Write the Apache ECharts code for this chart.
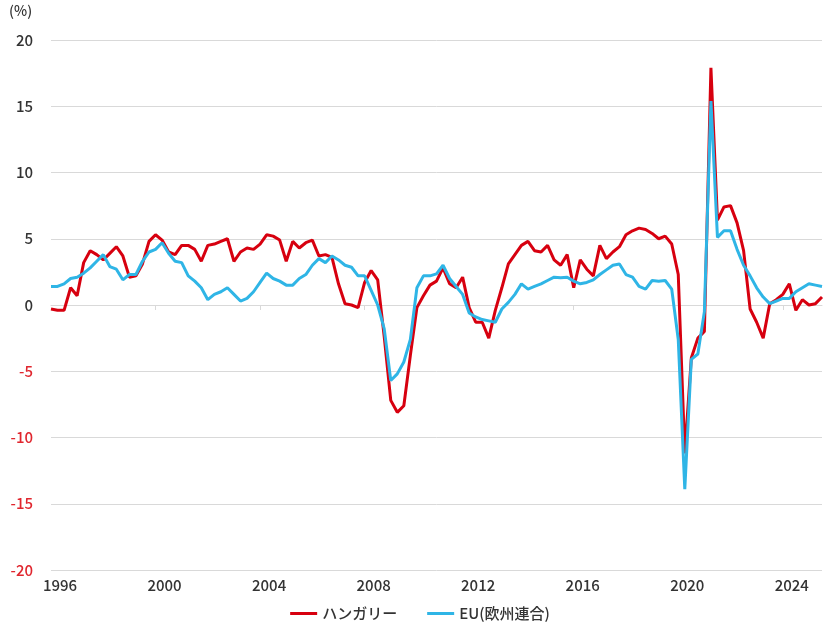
<!DOCTYPE html>
<html>
<head>
<meta charset="utf-8">
<script src="https://cdn.jsdelivr.net/npm/echarts@6/dist/echarts.min.js"></script>
<style>
html,body{margin:0;padding:0;background:#fff;}
#chart{width:840px;height:634px;}
</style>
</head>
<body>
<div id="chart"></div>
<script>
// Quarterly GDP growth (YoY, %), 1996Q1 - 2025Q3
const startYear = 1996;
const quarterCount = 119;
const categories = [];
for (let i = 0; i < quarterCount; i++) {
  categories.push((startYear + Math.floor(i / 4)) + 'Q' + (i % 4 + 1));
}
const seriesNames = ['ハンガリー', 'EU(欧州連合)'];
const hungary = [
  -0.3, -0.4, -0.4, 1.3, 0.7, 3.2, 4.1, 3.8, 3.4, 3.9, 4.4, 3.7,
  2.1, 2.2, 3.1, 4.8, 5.3, 4.9, 4.0, 3.8, 4.5, 4.5, 4.2, 3.3,
  4.5, 4.6, 4.8, 5.0, 3.3, 4.0, 4.3, 4.2, 4.6, 5.3, 5.2, 4.9,
  3.3, 4.8, 4.3, 4.7, 4.9, 3.7, 3.8, 3.6, 1.6, 0.1, 0.0, -0.2,
  1.7, 2.6, 1.9, -2.4, -7.2, -8.1, -7.6, -3.8, -0.2, 0.7, 1.5, 1.8,
  2.8, 1.6, 1.3, 2.1, -0.2, -1.3, -1.3, -2.5, -0.4, 1.3, 3.1, 3.8,
  4.5, 4.8, 4.1, 4.0, 4.5, 3.4, 3.0, 3.8, 1.3, 3.4, 2.7, 2.2,
  4.5, 3.5, 4.0, 4.4, 5.3, 5.6, 5.8, 5.7, 5.4, 5.0, 5.2, 4.6,
  2.3, -11.2, -4.0, -2.5, -2.0, 17.9, 6.4, 7.4, 7.5, 6.2, 4.1, -0.3,
  -1.3, -2.5, 0.1, 0.4, 0.8, 1.6, -0.4, 0.4, 0.0, 0.1, 0.6
];
const eu = [
  1.4, 1.4, 1.6, 2.0, 2.1, 2.4, 2.8, 3.3, 3.8, 2.9, 2.7, 1.9,
  2.3, 2.3, 3.3, 4.0, 4.2, 4.7, 3.9, 3.3, 3.2, 2.2, 1.8, 1.3,
  0.4, 0.8, 1.0, 1.3, 0.8, 0.3, 0.5, 1.0, 1.7, 2.4, 2.0, 1.8,
  1.5, 1.5, 2.0, 2.3, 3.0, 3.5, 3.2, 3.7, 3.4, 3.0, 2.85, 2.2,
  2.2, 1.1, 0.0, -1.8, -5.7, -5.2, -4.3, -2.6, 1.3, 2.2, 2.2, 2.35,
  3.0, 2.0, 1.4, 0.8, -0.6, -0.9, -1.1, -1.2, -1.3, -0.3, 0.2, 0.8,
  1.6, 1.2, 1.4, 1.6, 1.85, 2.1, 2.05, 2.1, 1.8, 1.6, 1.7, 1.9,
  2.3, 2.65, 3.0, 3.1, 2.3, 2.1, 1.4, 1.2, 1.85, 1.8, 1.85, 1.2,
  -2.6, -13.9, -4.1, -3.7, -0.5, 15.4, 5.1, 5.6, 5.6, 4.2, 3.0, 2.2,
  1.3, 0.6, 0.1, 0.3, 0.5, 0.5, 1.0, 1.3, 1.6, 1.5, 1.4
];
const yMin = -20, yMax = 20, yStep = 5;
const labelEvery = 16;

const FONT = '"Noto Sans CJK JP", "Noto Sans", sans-serif';
const WEIGHT = 500;
const RED = '#d7000f';
const BLUE = '#2fb5e6';

const chart = echarts.init(document.getElementById('chart'), null, {renderer: 'canvas'});
chart.setOption({
  animation: false,
  backgroundColor: '#ffffff',
  textStyle: {fontFamily: FONT},
  grid: {left: 51, right: 18, top: 40, bottom: 64, containLabel: false},
  graphic: [{
    type: 'text', left: 9, top: 4,
    style: {text: '(%)', fontSize: 14, fill: '#333', fontFamily: FONT, fontWeight: WEIGHT}
  }],
  legend: {
    bottom: 8, left: 'center',
    icon: 'rect', itemWidth: 27, itemHeight: 3, itemGap: 30,
    textStyle: {fontSize: 15, color: '#333', fontFamily: FONT, fontWeight: WEIGHT},
    data: seriesNames
  },
  xAxis: [{
    type: 'category', data: categories, boundaryGap: false,
    axisLine: {show: true, onZero: true, lineStyle: {color: '#d9d9d9', width: 1}},
    axisTick: {show: true, length: 5, lineStyle: {color: '#d9d9d9'},
      interval: function (idx) { return idx % labelEvery === 0 && idx > 0; }},
    axisLabel: {show: false},
    splitLine: {show: false}
  }, {
    type: 'category', data: categories, boundaryGap: false, position: 'bottom', offset: 0,
    axisLine: {show: false, onZero: false},
    axisTick: {show: false},
    axisLabel: {
      show: true, margin: 8, fontSize: 15, color: '#333', fontFamily: FONT, fontWeight: WEIGHT,
      padding: [0, 0, 0, 18],
      interval: function (idx) { return idx % labelEvery === 0; },
      formatter: function (v) { return v.slice(0, 4); }
    },
    splitLine: {show: false}
  }],
  yAxis: {
    type: 'value', min: yMin, max: yMax, interval: yStep,
    axisLine: {show: false}, axisTick: {show: false},
    axisLabel: {
      margin: 18, fontSize: 15, fontFamily: FONT, fontWeight: WEIGHT,
      color: function (v) { return Number(v) < 0 ? '#e0262e' : '#333'; }
    },
    splitLine: {lineStyle: {color: '#d9d9d9', width: 1}}
  },
  series: [{
    name: seriesNames[0], type: 'line', data: hungary, xAxisIndex: 0,
    showSymbol: false, symbol: 'none',
    lineStyle: {color: RED, width: 3}, itemStyle: {color: RED}, z: 3
  }, {
    name: seriesNames[1], type: 'line', data: eu, xAxisIndex: 0,
    showSymbol: false, symbol: 'none',
    lineStyle: {color: BLUE, width: 3}, itemStyle: {color: BLUE}, z: 4
  }]
});
</script>
</body>
</html>
